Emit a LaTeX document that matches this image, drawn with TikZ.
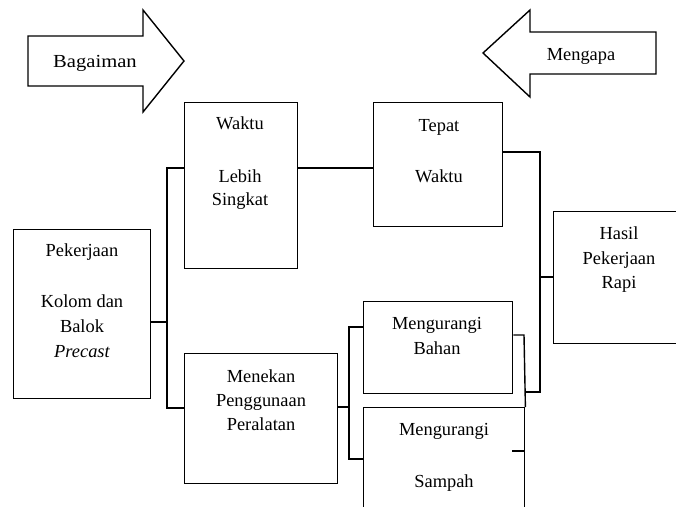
\documentclass[tikz,border=0pt]{standalone}
\usepackage{fontspec}
\setmainfont{Liberation Serif}
\begin{document}
\begin{tikzpicture}[x=1pt,y=-1pt,
  box/.style={draw=black,line width=1.4pt,rectangle,inner sep=0pt,anchor=north west},
  txt/.style={anchor=base,inner sep=0pt,font=\fontsize{18.4}{22}\selectfont},
  conn/.style={draw=black,line width=1.4pt},
  bigarrow/.style={draw=black,line width=1.4pt,line join=miter}]
\useasboundingbox (0,0) rectangle (676,506);
\clip (0,0) rectangle (676,506);

% block arrows
\draw[bigarrow] (28,36) -- (143,36) -- (143,10) -- (184,61) -- (143,112) -- (143,86) -- (28,86) -- cycle;
\node[txt] (bag) at (95,67) {\scalebox{1.12}[1]{Bagaiman}};
\draw[bigarrow] (656,32) -- (530,32) -- (530,10) -- (483,53) -- (530,97) -- (530,74) -- (656,74) -- cycle;
\node[txt] (men) at (581,60) {Mengapa};

% boxes
\node[box,minimum width=137pt,minimum height=169pt] (pek) at (13,229) {};
\node[box,minimum width=113pt,minimum height=166pt] (waktu) at (184,102) {};
\node[box,minimum width=129pt,minimum height=124pt] (tepat) at (373,102) {};
\node[box,minimum width=140pt,minimum height=132pt] (hasil) at (553,211) {};
\node[box,minimum width=153pt,minimum height=130pt] (menekan) at (184,353) {};
\node[box,minimum width=149pt,minimum height=92pt] (bahan) at (363,301) {};
\node[box,minimum width=161pt,minimum height=120pt] (sampah) at (363,407) {};

% texts
\node[txt] (t1) at (82,256) {Pekerjaan};
\node[txt] (t2) at (82,307) {Kolom dan};
\node[txt] (t3) at (82,332) {Balok};
\node[txt] (t4) at (82,357) {\itshape Precast};
\node[txt] (t5) at (240,129) {Waktu};
\node[txt] (t6) at (240,182) {Lebih};
\node[txt] (t7) at (240,205) {Singkat};
\node[txt] (t8) at (439,131) {Tepat};
\node[txt] (t9) at (439,182) {Waktu};
\node[txt] (t10) at (619,239) {Hasil};
\node[txt] (t11) at (619,264) {Pekerjaan};
\node[txt] (t12) at (619,288) {Rapi};
\node[txt] (t13) at (261,382) {Menekan};
\node[txt] (t14) at (261,406) {Penggunaan};
\node[txt] (t15) at (261,430) {Peralatan};
\node[txt] (t16) at (437,329) {Mengurangi};
\node[txt] (t17) at (437,354) {Bahan};
\node[txt] (t18) at (444,435) {Mengurangi};
\node[txt] (t19) at (444,487) {Sampah};

% junction coordinates
\coordinate (jp) at (167,322);
\coordinate (jw) at (167,168);
\coordinate (jm) at (167,408);
\coordinate (jt1) at (540,152);
\coordinate (jt2) at (540,392);
\coordinate (jh) at (540,277);
\coordinate (jn) at (349,407);
\coordinate (jn1) at (349,327);
\coordinate (jn2) at (349,459);
\coordinate (jb) at (524,335);
\coordinate (ds) at (512,451);

% connectors
\draw[conn] (pek.east |- jp) -- (jp);
\draw[conn] (waktu.west |- jw) -- (jw) -- (jm) -- (menekan.west |- jm);
\draw[conn] (waktu.east |- jw) -- (tepat.west |- jw);
\draw[conn] (tepat.east |- jt1) -- (jt1) -- (jt2) -- (sampah.east |- jt2);
\draw[conn] (jh) -- (hasil.west |- jh);
\draw[conn] (menekan.east |- jn) -- (jn);
\draw[conn] (bahan.west |- jn1) -- (jn1) -- (jn2) -- (sampah.west |- jn2);
\draw[conn] (bahan.east |- jb) -- (jb) -- (sampah.north east);
\draw[conn] (ds) -- (sampah.east |- ds);
\end{tikzpicture}
\end{document}
